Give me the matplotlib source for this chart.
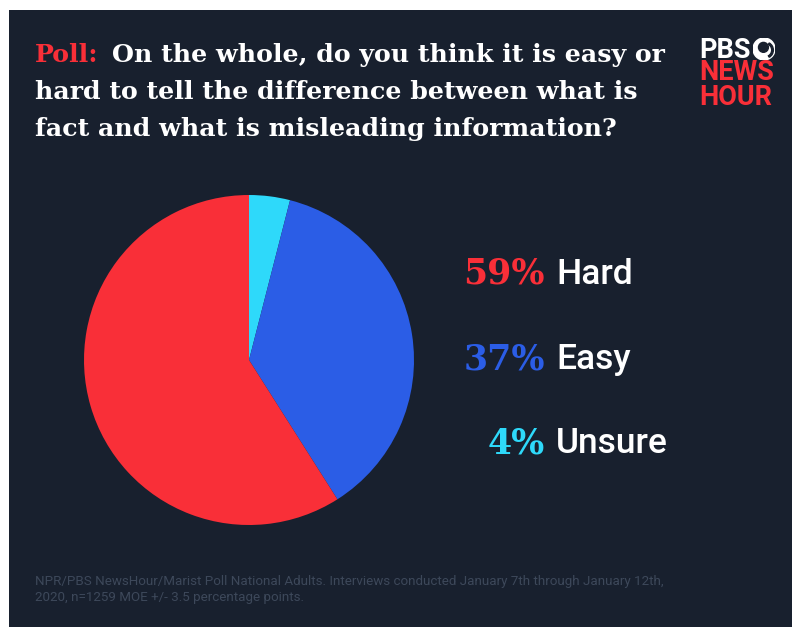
import matplotlib
matplotlib.use("Agg")
import matplotlib.pyplot as plt
from matplotlib.patches import Rectangle, Circle, Wedge

# ---- data ----
categories = ["Hard", "Easy", "Unsure"]
values = [59, 37, 4]
pct_labels = ["59%", "37%", "4%"]
colors = {"Hard": "#f92f38", "Easy": "#2b5de6", "Unsure": "#2ed9fa"}

title_prefix = "Poll:"
title_lines = ["On the whole, do you think it is easy or",
               "hard to tell the difference between what is",
               "fact and what is misleading information?"]
footer_lines = ["NPR/PBS NewsHour/Marist Poll National Adults. Interviews conducted January 7th through January 12th,",
                "2020, n=1259 MOE +/- 3.5 percentage points."]

W, H = 792, 627
BG = "#18202e"
fig = plt.figure(figsize=(W / 100, H / 100), dpi=100, facecolor="white")

def fx(x):
    return x / W

def fy(y):
    return 1 - y / H

fig.patches.append(Rectangle((fx(9), 0), 1 - fx(9), fy(10), transform=fig.transFigure,
                             facecolor=BG, edgecolor="none", zorder=-10))

# ---- pie ----
cx, cy, r = 249, 360, 165
ax = fig.add_axes([fx(cx - r), fy(cy + r), 2 * r / W, 2 * r / H])
ax.set_facecolor("none")
order = ["Unsure", "Easy", "Hard"]
ordered_vals = [values[categories.index(c)] for c in order]
ax.pie(ordered_vals, colors=[colors[c] for c in order], startangle=90, counterclock=False,
       wedgeprops=dict(linewidth=0))
ax.set_xlim(-1, 1)
ax.set_ylim(-1, 1)
ax.set_aspect("equal")
ax.axis("off")

# ---- title ----
serif = ["DejaVu Serif"]
tsize = 18.2
fig.text(fx(35), fy(62), title_prefix, color="#f92f38", fontsize=tsize, fontweight="bold",
         family=serif, va="baseline", ha="left")
fig.text(fx(112), fy(62), title_lines[0], color="white", fontsize=tsize, fontweight="bold",
         family=serif, va="baseline", ha="left")
fig.text(fx(35), fy(99), title_lines[1], color="white", fontsize=tsize, fontweight="bold",
         family=serif, va="baseline", ha="left")
fig.text(fx(35), fy(136), title_lines[2], color="white", fontsize=tsize, fontweight="bold",
         family=serif, va="baseline", ha="left")

# ---- labels ----
baselines = [284, 369, 453]
for cat, pl, yb in zip(categories, pct_labels, baselines):
    fig.text(fx(545), fy(yb), pl, color=colors[cat], fontsize=25, fontweight="bold",
             family=serif, va="baseline", ha="right")
    fig.text(fx(556), fy(yb), cat, color="white", fontsize=25.5, fontweight=500,
             family=["Roboto"], va="baseline", ha="left")

# ---- footer ----
for i, line in enumerate(footer_lines):
    fig.text(fx(35), fy(585 + 16 * i), line, color="#3d485a", fontsize=9.6,
             family=["Roboto"], va="baseline", ha="left")

# ---- logo ----
lsize = 19.5
fig.text(fx(699), fy(58), "PBS", color="white", fontsize=lsize, fontweight="bold",
         family=["Roboto"], va="baseline", ha="left")
fig.text(fx(699), fy(105), "NEWS\nHOUR", color="#f92f38", fontsize=lsize, fontweight="bold",
         family=["Roboto"], va="baseline", ha="left", linespacing=0.92,
         multialignment="left")
lax = fig.add_axes([fx(753), fy(60), 22 / W, 22 / H])
lax.set_xlim(-1, 1)
lax.set_ylim(-1, 1)
lax.set_aspect("equal")
lax.axis("off")
lax.add_patch(Circle((0, 0), 1, color="white"))
lax.add_patch(Circle((-0.05, 0.15), 0.45, color=BG))
lax.add_patch(Wedge((0.1, -0.1), 0.75, -60, 60, width=0.15, color=BG))

fig.savefig("out.png", dpi=100, facecolor="white")
